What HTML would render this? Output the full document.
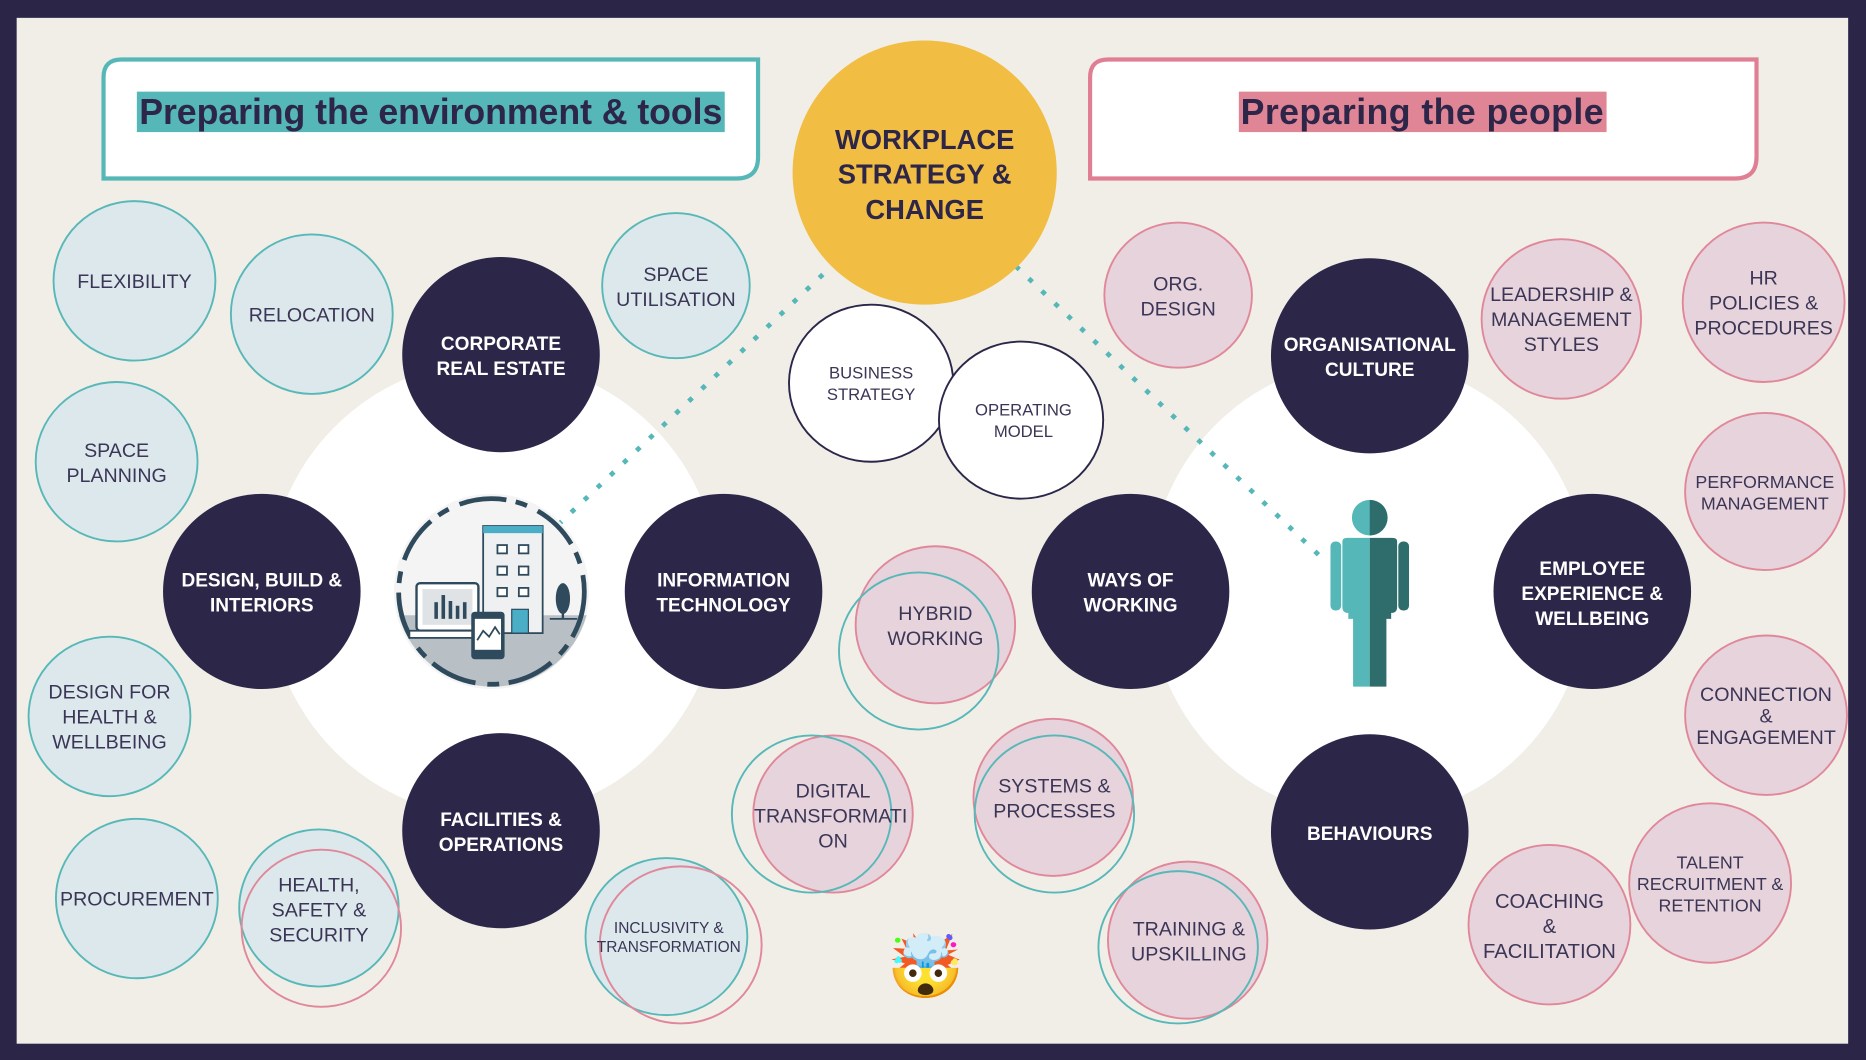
<!DOCTYPE html>
<html><head><meta charset="utf-8"><style>
html,body{margin:0;padding:0;background:#2b2548;}
svg{display:block}
.t{font-family:"Liberation Sans",sans-serif;fill:#3b3556;font-size:16.5px;text-anchor:middle;}
.w{font-family:"Liberation Sans",sans-serif;fill:#fff;font-size:16px;font-weight:bold;text-anchor:middle;}
.b{fill:#dce8ec;stroke:#58b8b8;stroke-width:1.6}
.p{fill:#e6d3dc;stroke:#e0889a;stroke-width:1.6}
.po{fill:none;stroke:#e0889a;stroke-width:1.6}
.bo{fill:none;stroke:#58b8b8;stroke-width:1.6}
.d{fill:#2c2649}
</style></head><body>
<svg width="1866" height="1060" viewBox="0 0 1568 890.7" preserveAspectRatio="none" xmlns="http://www.w3.org/2000/svg">
<rect x="0" y="0" width="1568" height="891" fill="#2b2548" rx="6"/>
<rect x="14" y="15" width="1539" height="862" fill="#f1eee8"/>
<!-- title boxes -->
<path d="M102,50 H637 V132 Q637,150 619,150 H87 V65 Q87,50 102,50 Z" fill="#fff" stroke="#55b7b7" stroke-width="3.5"/>
<rect x="115" y="77" width="494" height="34" fill="#55b7b7"/>
<text x="362" y="104" style="font-family:'Liberation Sans',sans-serif;font-weight:bold;font-size:30px;fill:#2d2649" text-anchor="middle" textLength="490">Preparing the environment &amp; tools</text>
<path d="M931,50 H1476 V132 Q1476,150 1458,150 H916 V65 Q916,50 931,50 Z" fill="#fff" stroke="#e07f93" stroke-width="3.5"/>
<rect x="1041" y="77" width="309" height="34" fill="#e08595"/>
<text x="1195" y="104" style="font-family:'Liberation Sans',sans-serif;font-weight:bold;font-size:30px;fill:#2d2649" text-anchor="middle" textLength="305">Preparing the people</text>
<!-- white blobs -->
<ellipse cx="415" cy="495" rx="190" ry="192" fill="#fff"/>
<ellipse cx="1150" cy="495" rx="185" ry="192" fill="#fff"/>
<!-- dotted lines -->
<line x1="690" y1="232" x2="470" y2="440" stroke="#55b7b7" stroke-width="4" stroke-dasharray="0.1 15" stroke-linecap="square"/>
<line x1="855" y1="225" x2="1112" y2="470" stroke="#55b7b7" stroke-width="4" stroke-dasharray="0.1 15" stroke-linecap="square"/>
<!-- yellow -->
<circle cx="777" cy="145" r="111" fill="#f1bd42"/>
<text x="777" y="125" style="font-family:'Liberation Sans',sans-serif;font-weight:bold;font-size:23px;fill:#2d2649" text-anchor="middle">WORKPLACE</text>
<text x="777" y="154" style="font-family:'Liberation Sans',sans-serif;font-weight:bold;font-size:23px;fill:#2d2649" text-anchor="middle">STRATEGY &amp;</text>
<text x="777" y="184" style="font-family:'Liberation Sans',sans-serif;font-weight:bold;font-size:23px;fill:#2d2649" text-anchor="middle">CHANGE</text>
<!-- white stroked -->
<ellipse cx="732" cy="322" rx="69" ry="66" fill="#fff" stroke="#2c2649" stroke-width="1.6"/>
<text class="t" x="732" y="318" style="font-size:14px">BUSINESS</text><text class="t" x="732" y="336" style="font-size:14px">STRATEGY</text>
<ellipse cx="858" cy="353" rx="69" ry="66" fill="#fff" stroke="#2c2649" stroke-width="1.6"/>
<text class="t" x="860" y="349" style="font-size:14px">OPERATING</text><text class="t" x="860" y="367" style="font-size:14px">MODEL</text>
<!-- blue circles -->
<ellipse class="b" cx="113" cy="236" rx="68" ry="67"/><text class="t" x="113" y="242">FLEXIBILITY</text>
<ellipse class="b" cx="262" cy="264" rx="68" ry="67"/><text class="t" x="262" y="270">RELOCATION</text>
<ellipse class="b" cx="568" cy="240" rx="62" ry="61"/><text class="t" x="568" y="236">SPACE</text><text class="t" x="568" y="257">UTILISATION</text>
<ellipse class="b" cx="98" cy="388" rx="68" ry="67"/><text class="t" x="98" y="384">SPACE</text><text class="t" x="98" y="405">PLANNING</text>
<ellipse class="b" cx="92" cy="602" rx="68" ry="67"/><text class="t" x="92" y="587">DESIGN FOR</text><text class="t" x="92" y="608">HEALTH &amp;</text><text class="t" x="92" y="629">WELLBEING</text>
<ellipse class="b" cx="115" cy="755" rx="68" ry="67"/><text class="t" x="115" y="761">PROCUREMENT</text>
<ellipse class="b" cx="268" cy="763" rx="67" ry="66"/><ellipse class="po" cx="270" cy="780" rx="67" ry="66"/>
<text class="t" x="268" y="749">HEALTH,</text><text class="t" x="268" y="770">SAFETY &amp;</text><text class="t" x="268" y="791">SECURITY</text>
<ellipse class="b" cx="560" cy="787" rx="68" ry="66"/><ellipse class="po" cx="572" cy="794" rx="68" ry="66"/>
<text class="t" x="562" y="784" style="font-size:13px">INCLUSIVITY &amp;</text><text class="t" x="562" y="800" style="font-size:13px">TRANSFORMATION</text>
<!-- pink circles -->
<ellipse class="p" cx="990" cy="248" rx="62" ry="61"/><text class="t" x="990" y="244">ORG.</text><text class="t" x="990" y="265">DESIGN</text>
<ellipse class="p" cx="1312" cy="268" rx="67" ry="67"/><text class="t" x="1312" y="253">LEADERSHIP &amp;</text><text class="t" x="1312" y="274">MANAGEMENT</text><text class="t" x="1312" y="295">STYLES</text>
<ellipse class="p" cx="1482" cy="254" rx="68" ry="67"/><text class="t" x="1482" y="239">HR</text><text class="t" x="1482" y="260">POLICIES &amp;</text><text class="t" x="1482" y="281">PROCEDURES</text>
<ellipse class="p" cx="1483" cy="413" rx="67" ry="66"/><text class="t" x="1483" y="410" style="font-size:15px">PERFORMANCE</text><text class="t" x="1483" y="428" style="font-size:15px">MANAGEMENT</text>
<ellipse class="p" cx="1484" cy="601" rx="68" ry="67"/><text class="t" x="1484" y="589">CONNECTION</text><text class="t" x="1484" y="607">&amp;</text><text class="t" x="1484" y="625">ENGAGEMENT</text>
<ellipse class="p" cx="1437" cy="742" rx="68" ry="67"/><text class="t" x="1437" y="730" style="font-size:15px">TALENT</text><text class="t" x="1437" y="748" style="font-size:15px">RECRUITMENT &amp;</text><text class="t" x="1437" y="766" style="font-size:15px">RETENTION</text>
<ellipse class="p" cx="1302" cy="777" rx="68" ry="67"/><text class="t" x="1302" y="763" style="font-size:17px">COACHING</text><text class="t" x="1302" y="784" style="font-size:17px">&amp;</text><text class="t" x="1302" y="805" style="font-size:17px">FACILITATION</text>
<ellipse class="p" cx="786" cy="525" rx="67" ry="66"/><ellipse class="bo" cx="772" cy="547" rx="67" ry="66"/>
<text class="t" x="786" y="521">HYBRID</text><text class="t" x="786" y="542">WORKING</text>
<ellipse class="p" cx="700" cy="684" rx="67" ry="66"/><ellipse class="bo" cx="682" cy="684" rx="67" ry="66"/>
<text class="t" x="700" y="670">DIGITAL</text><text class="t" x="698" y="691">TRANSFORMATI</text><text class="t" x="700" y="712">ON</text>
<ellipse class="p" cx="885" cy="670" rx="67" ry="66"/><ellipse class="bo" cx="886" cy="684" rx="67" ry="66"/>
<text class="t" x="886" y="666">SYSTEMS &amp;</text><text class="t" x="886" y="687">PROCESSES</text>
<ellipse class="p" cx="998" cy="790" rx="67" ry="66"/><ellipse class="bo" cx="990" cy="796" rx="67" ry="64"/>
<text class="t" x="999" y="786">TRAINING &amp;</text><text class="t" x="999" y="807">UPSKILLING</text>
<!-- dark circles -->
<ellipse class="d" cx="421" cy="298" rx="83" ry="82"/><text class="w" x="421" y="294">CORPORATE</text><text class="w" x="421" y="315">REAL ESTATE</text>
<ellipse class="d" cx="220" cy="497" rx="83" ry="82"/><text class="w" x="220" y="493">DESIGN, BUILD &amp;</text><text class="w" x="220" y="514">INTERIORS</text>
<ellipse class="d" cx="608" cy="497" rx="83" ry="82"/><text class="w" x="608" y="493">INFORMATION</text><text class="w" x="608" y="514">TECHNOLOGY</text>
<ellipse class="d" cx="421" cy="698" rx="83" ry="82"/><text class="w" x="421" y="694">FACILITIES &amp;</text><text class="w" x="421" y="715">OPERATIONS</text>
<ellipse class="d" cx="1151" cy="299" rx="83" ry="82"/><text class="w" x="1151" y="295">ORGANISATIONAL</text><text class="w" x="1151" y="316">CULTURE</text>
<ellipse class="d" cx="950" cy="497" rx="83" ry="82"/><text class="w" x="950" y="493">WAYS OF</text><text class="w" x="950" y="514">WORKING</text>
<ellipse class="d" cx="1338" cy="497" rx="83" ry="82"/><text class="w" x="1338" y="483">EMPLOYEE</text><text class="w" x="1338" y="504">EXPERIENCE &amp;</text><text class="w" x="1338" y="525">WELLBEING</text>
<ellipse class="d" cx="1151" cy="699" rx="83" ry="82"/><text class="w" x="1151" y="706">BEHAVIOURS</text>
<!-- building icon -->
<g>
<ellipse cx="413" cy="497" rx="82" ry="82" fill="#f4f4f4"/>
<path d="M335,517 H493 A82,82 0 0 1 335,517 Z" fill="#b9c0c5"/>
<ellipse cx="413" cy="497" rx="78" ry="78" fill="none" stroke="#2e4a5c" stroke-width="4" stroke-dasharray="40 8 10 10"/>
<rect x="406" y="442" width="50" height="90" fill="#eef0f1" stroke="#2e4a5c" stroke-width="1.5"/>
<rect x="406" y="442" width="50" height="6" fill="#4aaec6"/>
<g fill="#fff" stroke="#2e4a5c" stroke-width="1.5">
<rect x="418" y="458" width="8" height="7"/><rect x="436" y="458" width="8" height="7"/>
<rect x="418" y="476" width="8" height="7"/><rect x="436" y="476" width="8" height="7"/>
<rect x="418" y="494" width="8" height="7"/><rect x="436" y="494" width="8" height="7"/>
</g>
<rect x="430" y="512" width="14" height="20" fill="#4aaec6" stroke="#2e4a5c"/>
<ellipse cx="473" cy="503" rx="6" ry="13" fill="#2e4a5c"/><line x1="473" y1="510" x2="473" y2="520" stroke="#2e4a5c" stroke-width="2"/>
<line x1="462" y1="520" x2="485" y2="520" stroke="#2e4a5c" stroke-width="1.5"/>
<rect x="350" y="490" width="52" height="40" rx="3" fill="#fff" stroke="#2e4a5c" stroke-width="2"/>
<rect x="355" y="495" width="42" height="30" fill="#dfe3e5"/>
<g fill="#2e4a5c"><rect x="365" y="506" width="3" height="14"/><rect x="371" y="500" width="3" height="20"/><rect x="377" y="505" width="3" height="15"/><rect x="383" y="509" width="3" height="11"/><rect x="389" y="506" width="3" height="14"/></g>
<rect x="344" y="530" width="62" height="6" fill="#fff" stroke="#2e4a5c" stroke-width="1.5"/>
<rect x="396" y="514" width="28" height="40" rx="3" fill="#2e4a5c"/><rect x="399" y="520" width="22" height="26" fill="#fff"/>
<polyline points="401,538 406,530 411,535 416,527 420,533" fill="none" stroke="#2e4a5c" stroke-width="1.5"/>
</g>
<!-- person icon -->
<g>
<circle cx="1151" cy="435" r="15" fill="#55b7b7"/>
<path d="M1151,420 A15,15 0 0 1 1151,450 Z" fill="#2e6d6c"/>
<path d="M1128,455 Q1128,452 1132,452 H1151 V577 H1137 V520 H1133 V515 Q1128,515 1128,510 Z" fill="#55b7b7"/>
<path d="M1174,455 Q1174,452 1170,452 H1151 V577 H1165 V520 H1169 V515 Q1174,515 1174,510 Z" fill="#2e6d6c"/>
<rect x="1118" y="455" width="9" height="58" rx="4" fill="#55b7b7"/>
<rect x="1175" y="455" width="9" height="58" rx="4" fill="#2e6d6c"/>
</g>
<text x="778" y="830" style="font-size:52px;font-family:'Noto Color Emoji','DejaVu Sans',sans-serif" text-anchor="middle">🤯</text>
</svg>
</body></html>
